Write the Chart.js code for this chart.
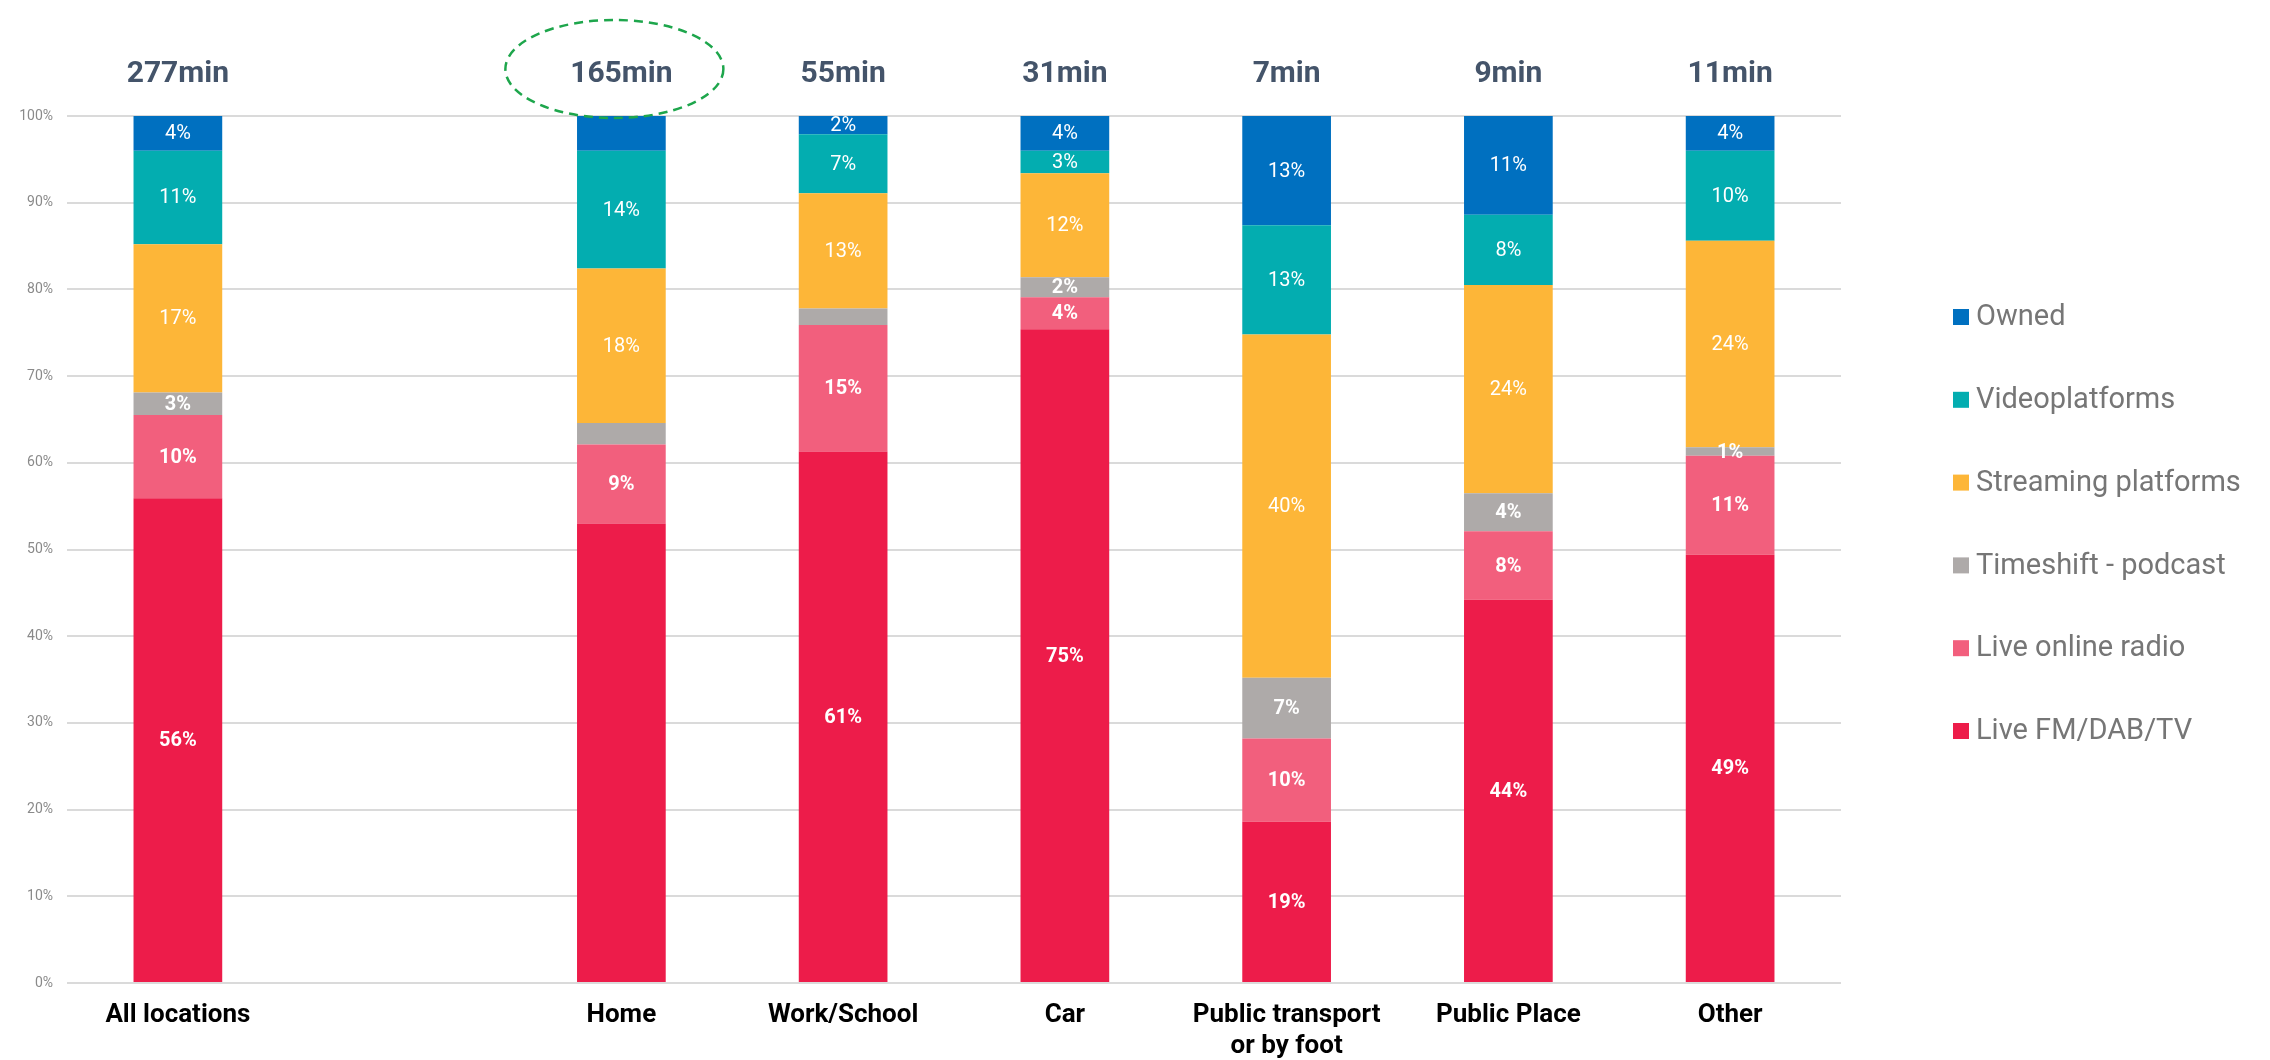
<!DOCTYPE html>
<html lang="en">
<head>
    <meta charset="UTF-8">
    <title>Listening time by location</title>
    <script src="https://cdn.jsdelivr.net/npm/chart.js"></script>
    <style>
        html, body { margin: 0; padding: 0; background: #ffffff; }
        #wrap { width: 2270px; height: 1060px; }
    </style>
</head>
<body>
<div id="wrap"><canvas id="chart" width="2270" height="1060"></canvas></div>
<script>
    // categories (the empty one is the gap after "All locations")
    var locations = ['All locations', '', 'Home', 'Work/School', 'Car', ['Public transport', 'or by foot'], 'Public Place', 'Other'];
    var minutes = [277, null, 165, 55, 31, 7, 9, 11];

    // share of listening time per location (%)
    var liveFm     = [55.9, null, 53.0, 61.3, 75.4, 18.6, 44.2, 49.4];
    var liveOnline = [9.6, null, 9.1, 14.6, 3.7, 9.6, 7.9, 11.4];
    var timeshift  = [2.6, null, 2.5, 1.9, 2.3, 7.0, 4.4, 1.0];
    var streaming  = [17.1, null, 17.8, 13.3, 12.0, 39.6, 24.0, 23.8];
    var video      = [10.8, null, 13.6, 6.8, 2.6, 12.6, 8.1, 10.4];
    var owned      = [4.0, null, 4.0, 2.1, 4.0, 12.6, 11.4, 4.0];

    var yTicks = [0, 10, 20, 30, 40, 50, 60, 70, 80, 90, 100];

    // segments that carry no label in the original
    var noLabel = ['0-2', '2-2', '2-3', '5-2'];

    var ds = function (label, data, color) {
        return { label: label, data: data, backgroundColor: color, borderWidth: 0 };
    };

    var overlay = {
        id: 'overlay',
        afterDatasetsDraw: function (chart) {
            var ctx = chart.ctx;
            var xs = chart.scales.x;
            ctx.save();
            ctx.textAlign = 'center';
            ctx.textBaseline = 'middle';

            // values inside the segments
            chart.data.datasets.forEach(function (d, di) {
                chart.getDatasetMeta(di).data.forEach(function (el, i) {
                    var v = d.data[i];
                    if (v == null || noLabel.indexOf(di + '-' + i) >= 0) return;
                    ctx.font = (di < 3 ? 'bold ' : '') + '20px Roboto';
                    ctx.fillStyle = '#ffffff';
                    ctx.fillText(Math.round(v) + '%', el.x, (el.y + el.base) / 2 + 1);
                });
            });

            // total minutes above the bars
            ctx.font = 'bold 30px Roboto';
            ctx.fillStyle = '#44546A';
            minutes.forEach(function (m, i) {
                if (m == null) return;
                ctx.fillText(m + 'min', xs.getPixelForValue(i), 74);
            });

            // legend, top item = last dataset
            ctx.textAlign = 'left';
            ctx.font = '29px Roboto';
            var items = chart.data.datasets.slice().reverse();
            items.forEach(function (d, k) {
                var y = 317 + k * 82.8;
                ctx.fillStyle = d.backgroundColor;
                ctx.fillRect(1953, y - 8, 16, 16);
                ctx.fillStyle = '#767676';
                ctx.fillText(d.label, 1976, y + 1);
            });

            // dashed green ring round the Home total
            ctx.beginPath();
            ctx.ellipse(xs.getPixelForValue(2) - 7, 69, 109, 49, 0, 0, Math.PI * 2);
            ctx.setLineDash([9, 6]);
            ctx.lineWidth = 2.5;
            ctx.strokeStyle = '#1EA64C';
            ctx.stroke();
            ctx.restore();
        }
    };

    new Chart(document.getElementById('chart').getContext('2d'), {
        type: 'bar',
        data: {
            labels: locations,
            datasets: [
                ds('Live FM/DAB/TV', liveFm, '#ED1C4A'),
                ds('Live online radio', liveOnline, '#F25F7D'),
                ds('Timeshift - podcast', timeshift, '#AEAAA9'),
                ds('Streaming platforms', streaming, '#FDB638'),
                ds('Videoplatforms', video, '#03ADB0'),
                ds('Owned', owned, '#0070C0')
            ]
        },
        options: {
            responsive: false,
            animation: false,
            layout: { padding: { top: 116, right: 429, left: 0, bottom: 0 } },
            datasets: { bar: { categoryPercentage: 1, barPercentage: 0.4 } },
            plugins: { legend: { display: false }, tooltip: { enabled: false } },
            scales: {
                x: {
                    stacked: true,
                    grid: { display: false, drawTicks: false },
                    border: { display: false },
                    ticks: {
                        autoSkip: false, maxRotation: 0, padding: 17,
                        color: '#000000',
                        font: { family: 'Roboto', size: 26, weight: 'bold' }
                    },
                    afterFit: function (s) { s.height = 77; }
                },
                y: {
                    stacked: true,
                    min: 0, max: 100,
                    grid: { color: '#DADADA', lineWidth: 2, drawTicks: false },
                    border: { display: false },
                    afterBuildTicks: function (s) {
                        s.ticks = yTicks.map(function (v) { return { value: v }; });
                    },
                    ticks: {
                        padding: 14,
                        color: '#8A8A8A',
                        font: { family: 'Roboto', size: 14 },
                        callback: function (v) { return v + '%'; }
                    },
                    afterFit: function (s) { s.width = 67; }
                }
            }
        },
        plugins: [overlay]
    });
</script>
</body>
</html>
